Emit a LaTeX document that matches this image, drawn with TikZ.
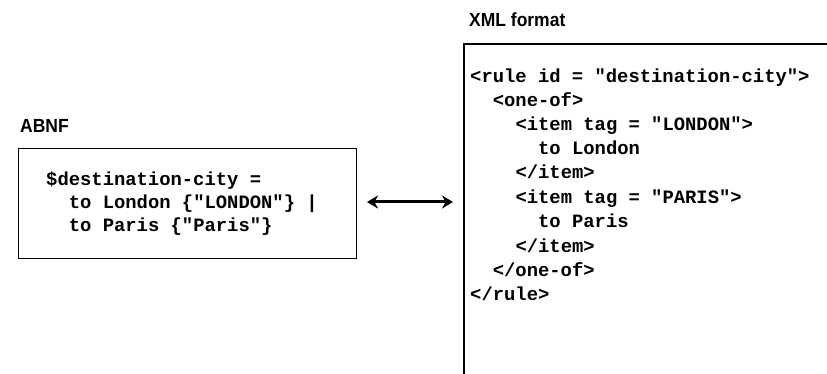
\documentclass[tikz,border=0pt]{standalone}
\usepackage{fontspec}
\usetikzlibrary{arrows.meta}
\newfontfamily\headfont[FakeStretch=0.92]{Liberation Sans}
\newfontfamily\codefont{Liberation Mono}
\tikzset{
  heading/.style={anchor=base west, inner sep=0pt, font=\headfont\bfseries\fontsize{19}{22}\selectfont},
  codeline/.style={anchor=base west, inner sep=0pt, font=\codefont\bfseries\fontsize{18.85}{23}\selectfont},
  frame/.style={draw=black, line width=1.3pt},
  link/.style={line width=3pt, {Stealth[length=11pt,width=13pt]}-{Stealth[length=11pt,width=13pt]}}
}
\begin{document}
\begin{tikzpicture}[x=1pt,y=-1pt]
\useasboundingbox (0,0) rectangle (827,374);
\def\cw{11.33}

% ABNF block
\node[heading] (abnfhead) at (20,133) {ABNF};
\node[frame, minimum width=338pt, minimum height=110pt, inner sep=0pt, anchor=north west] (abnf) at (18,148) {};
\node[codeline] (a1) at (46,185.3) {\$destination-city =};
\node[codeline] (a2) at ({46+2*\cw},208.5) {to London \{"LONDON"\} |};
\node[codeline] (a3) at ({46+2*\cw},231.5) {to Paris \{"Paris"\}};

% XML block, its frame runs past the right and lower edges
\node[heading] (xmlhead) at (469,27) {XML format};
\coordinate (xtl) at (464,44);
\coordinate (xtr) at (830,44);
\coordinate (xbl) at (464,378);
\draw[black, line width=1.3pt] (xbl) -- (xtl) -- (xtr);
\node[codeline] (x1)  at ({470+0*\cw},83)  {<rule id = "destination-city">};
\node[codeline] (x2)  at ({470+2*\cw},107) {<one-of>};
\node[codeline] (x3)  at ({470+4*\cw},131) {<item tag = "LONDON">};
\node[codeline] (x4)  at ({470+6*\cw},155) {to London};
\node[codeline] (x5)  at ({470+4*\cw},179) {</item>};
\node[codeline] (x6)  at ({470+4*\cw},204) {<item tag = "PARIS">};
\node[codeline] (x7)  at ({470+6*\cw},228) {to Paris};
\node[codeline] (x8)  at ({470+4*\cw},252) {</item>};
\node[codeline] (x9)  at ({470+2*\cw},276) {</one-of>};
\node[codeline] (x10) at ({470+0*\cw},300) {</rule>};

% two-way correspondence
\coordinate (al) at (367,202);
\coordinate (ar) at (453,202);
\draw[link] (al) -- (ar);
\end{tikzpicture}
\end{document}
